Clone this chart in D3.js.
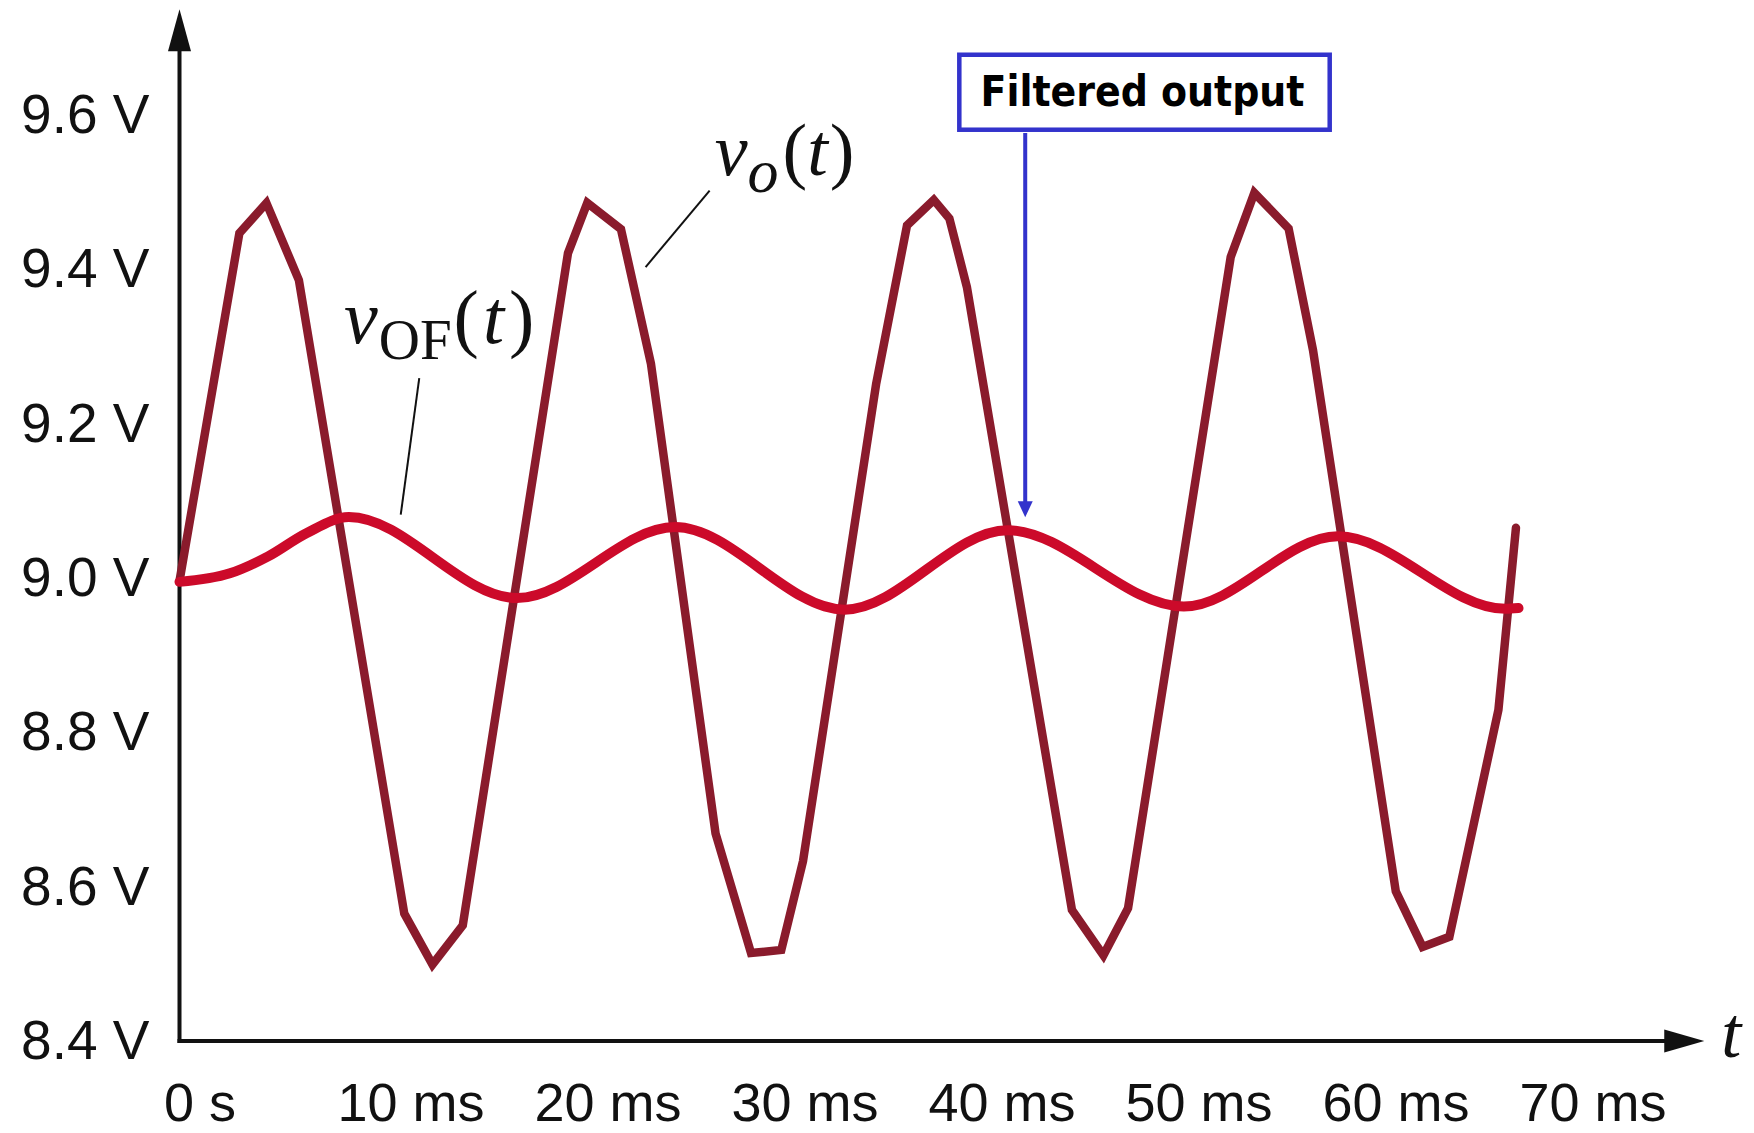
<!DOCTYPE html>
<html><head><meta charset="utf-8">
<script src="https://cdn.jsdelivr.net/npm/d3@7"></script>
<style>body{margin:0;background:#fff}svg{display:block}</style>
</head><body>
<svg id="chart" width="1754" height="1133"></svg>
<script>
// ---- data ----
const xTicks = [0, 10, 20, 30, 40, 50, 60, 70];
const xTickLabels = ["0 s", "10 ms", "20 ms", "30 ms", "40 ms", "50 ms", "60 ms", "70 ms"];
const yTicks = [8.4, 8.6, 8.8, 9.0, 9.2, 9.4, 9.6];
const yTickLabels = ["8.4 V", "8.6 V", "8.8 V", "9.0 V", "9.2 V", "9.4 V", "9.6 V"];

// v_o(t): time in ms, voltage in V
const voTime  = [0, 3.04, 4.41, 6.06, 11.41, 12.84, 14.38, 19.72, 20.70, 22.41, 23.93, 27.21, 29.01, 30.55, 31.65, 35.36, 36.93, 38.29, 39.08, 39.97, 45.30, 46.90, 48.15, 53.36, 54.56, 56.30, 57.54, 61.74, 63.10, 64.46, 66.95, 67.84];
const voValue = [8.996, 9.447, 9.486, 9.386, 8.565, 8.499, 8.550, 9.421, 9.486, 9.452, 9.278, 8.669, 8.514, 8.518, 8.633, 9.251, 9.457, 9.490, 9.466, 9.377, 8.570, 8.511, 8.572, 9.416, 9.499, 9.453, 9.295, 8.594, 8.522, 8.535, 8.829, 9.065];

// v_OF(t): filtered output
const vofTime  = [0, 2.56, 4.5, 6.44, 8.6, 17.13, 25.15, 33.76, 42.03, 50.98, 58.80, 67.3, 67.97];
const vofValue = [8.995, 9.006, 9.028, 9.058, 9.079, 8.974, 9.066, 8.959, 9.062, 8.963, 9.054, 8.960, 8.961];

// ---- scales ----
const x = d3.scaleLinear().domain([0, 70]).range([179.5, 1558.5]);
const y = d3.scaleLinear().domain([8.4, 9.6]).range([1041, 115]);

const svg = d3.select("#chart");
const sans = "'Liberation Sans', Arial, Helvetica, sans-serif";
const serif = "'Liberation Serif', 'Times New Roman', serif";

// ---- axes (ticks & labels) ----
const yAxis = d3.axisLeft(y).tickValues(yTicks).tickSize(0).tickPadding(30)
  .tickFormat((d, i) => yTickLabels[i]);
const gy = svg.append("g").attr("transform", `translate(${x(0)},0)`).call(yAxis);
gy.select(".domain").remove();
gy.selectAll("text").attr("font-family", sans).attr("font-size", 55).attr("fill", "#111");

const xAxis = d3.axisBottom(x).tickValues(xTicks).tickSize(0).tickPadding(42)
  .tickFormat((d, i) => xTickLabels[i]);
const gx = svg.append("g").attr("transform", `translate(0,${y(8.4)})`).call(xAxis);
gx.select(".domain").remove();
gx.selectAll("text").attr("font-family", sans).attr("font-size", 54).attr("fill", "#111")
  .attr("dx", d => d === 0 ? 20 : 34);

// ---- axis lines with arrows ----
const yTop = 9.737, xEnd = 77.4;
svg.append("line").attr("x1", x(0)).attr("x2", x(0)).attr("y1", y(8.4) + 2).attr("y2", y(yTop) + 38)
  .attr("stroke", "#111").attr("stroke-width", 4);
svg.append("path").attr("d", `M${x(0)},${y(yTop)} L${x(0) - 11.5},${y(yTop) + 42} L${x(0) + 11.5},${y(yTop) + 42} Z`).attr("fill", "#111");
svg.append("line").attr("x1", x(0) - 2).attr("x2", x(xEnd) - 38).attr("y1", y(8.4)).attr("y2", y(8.4))
  .attr("stroke", "#111").attr("stroke-width", 4);
svg.append("path").attr("d", `M${x(xEnd)},${y(8.4)} L${x(xEnd) - 40},${y(8.4) - 11.5} L${x(xEnd) - 40},${y(8.4) + 11.5} Z`).attr("fill", "#111");
svg.append("text").attr("x", x(xEnd) + 17).attr("y", y(8.4) + 16)
  .attr("font-family", serif).attr("font-style", "italic").attr("font-size", 72).attr("fill", "#111").text("t");

// ---- curves ----
const voData = voTime.map((t, i) => [t, voValue[i]]);
const vofData = vofTime.map((t, i) => [t, vofValue[i]]);

svg.append("path").datum(voData)
  .attr("d", d3.line().x(d => x(d[0])).y(d => y(d[1])))
  .attr("fill", "none").attr("stroke", "#8a1b2c").attr("stroke-width", 8.5)
  .attr("stroke-linejoin", "miter").attr("stroke-miterlimit", 10).attr("stroke-linecap", "round");

svg.append("path").datum(vofData)
  .attr("d", d3.line().curve(d3.curveMonotoneX).x(d => x(d[0])).y(d => y(d[1])))
  .attr("fill", "none").attr("stroke", "#cc0a2a").attr("stroke-width", 10)
  .attr("stroke-linecap", "round");

// ---- annotations ----
// v_o(t)
svg.append("line").attr("x1", x(26.91)).attr("y1", y(9.502)).attr("x2", x(23.66)).attr("y2", y(9.403))
  .attr("stroke", "#111").attr("stroke-width", 2);
const lo = svg.append("text").attr("x", x(27.17)).attr("y", y(9.522))
  .attr("font-family", serif).attr("font-size", 74).attr("fill", "#111");
lo.append("tspan").attr("font-style", "italic").text("v");
lo.append("tspan").attr("font-style", "italic").attr("font-size", 62).attr("dy", 17).text("o");
lo.append("tspan").attr("dy", -17).attr("dx", 4).text("(");
lo.append("tspan").attr("font-style", "italic").text("t");
lo.append("tspan").attr("dx", 2).text(")");

// v_OF(t)
svg.append("line").attr("x1", x(12.17)).attr("y1", y(9.259)).attr("x2", x(11.23)).attr("y2", y(9.082))
  .attr("stroke", "#111").attr("stroke-width", 2);
const lof = svg.append("text").attr("x", x(8.35)).attr("y", y(9.3045))
  .attr("font-family", serif).attr("font-size", 76).attr("fill", "#111");
lof.append("tspan").attr("font-style", "italic").text("v");
lof.append("tspan").attr("font-size", 57).attr("dy", 16).attr("dx", 1).text("OF");
lof.append("tspan").attr("dy", -16).attr("dx", 2).text("(");
lof.append("tspan").attr("font-style", "italic").attr("dx", 4).text("t");
lof.append("tspan").attr("dx", 5).text(")");

// Filtered output box + arrow
const bx0 = x(39.47), bx1 = x(58.5), by0 = y(9.681), by1 = y(9.578);
svg.append("rect").attr("x", bx0 + 2.25).attr("y", by0 + 2.25)
  .attr("width", bx1 - bx0 - 4.5).attr("height", by1 - by0 - 4.5)
  .attr("fill", "#fff").attr("stroke", "#3333cc").attr("stroke-width", 4.5);
svg.append("text").attr("x", (bx0 + bx1) / 2 - 2).attr("y", y(9.6) - 9)
  .attr("text-anchor", "middle")
  .attr("font-family", "'DejaVu Sans Condensed', 'DejaVu Sans', sans-serif")
  .attr("font-stretch", "condensed")
  .attr("font-weight", "bold").attr("font-size", 42).attr("fill", "#000")
  .attr("textLength", 324).attr("lengthAdjust", "spacingAndGlyphs")
  .text("Filtered output");
const ax = x(42.93);
svg.append("line").attr("x1", ax).attr("x2", ax).attr("y1", y(9.5767)).attr("y2", y(9.0787) - 14)
  .attr("stroke", "#3333cc").attr("stroke-width", 4);
svg.append("path").attr("d", `M${ax},${y(9.0787)} L${ax - 7.5},${y(9.0787) - 16} L${ax + 7.5},${y(9.0787) - 16} Z`)
  .attr("fill", "#3333cc");
</script>
</body></html>
